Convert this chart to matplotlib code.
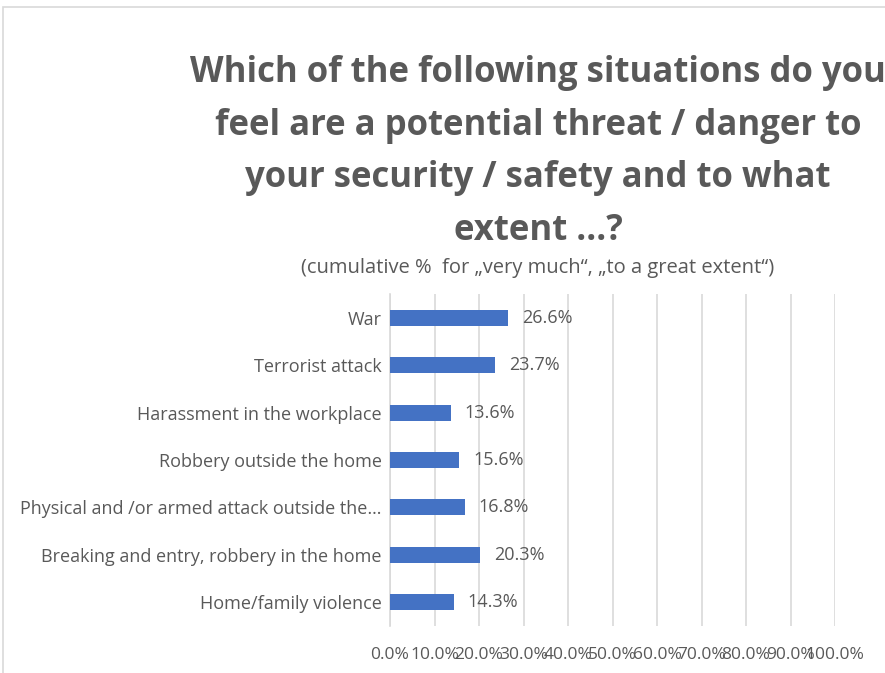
import matplotlib.pyplot as plt
from matplotlib.patches import Rectangle

categories = ['War', 'Terrorist attack', 'Harassment in the workplace',
              'Robbery outside the home', 'Physical and /or armed attack outside the…',
              'Breaking and entry, robbery in the home', 'Home/family violence']
values = [26.6, 23.7, 13.6, 15.6, 16.8, 20.3, 14.3]
xticks = [0, 10, 20, 30, 40, 50, 60, 70, 80, 90, 100]

text_color = '#595959'
bar_color = '#4472C4'
grid_color = '#D9D9D9'

plt.rcParams['font.family'] = ['Open Sans', 'DejaVu Sans']

fig = plt.figure(figsize=(8.85, 6.73), dpi=100)
fig.patch.set_facecolor('white')

# chart frame
fig.add_artist(Rectangle((3 / 885, -0.05), 1.1, 1 - 7 / 673 + 0.05, transform=fig.transFigure,
                         fill=False, edgecolor=grid_color, linewidth=1.2))

ax = fig.add_axes([390 / 885, 1 - 626 / 673, 445 / 885, 332 / 673])
pos = list(range(len(categories)))
ax.barh(pos, values, height=0.34, color=bar_color, zorder=3)
ax.set_ylim(len(categories) - 0.5, -0.5)
ax.set_xlim(0, 100)

for p, v in zip(pos, values):
    ax.annotate(f'{v:.1f}%', xy=(v, p), xytext=(10, 0), textcoords='offset points',
                ha='left', va='center', color=text_color, fontsize=13)

ax.set_yticks(pos)
ax.set_yticklabels(categories, color=text_color, fontsize=13)
ax.set_xticks(xticks)
ax.set_xticklabels([f'{t:.1f}%' for t in xticks], color=text_color, fontsize=12.5)
ax.tick_params(axis='both', length=0)
ax.tick_params(axis='x', pad=15)
ax.tick_params(axis='y', pad=6)
ax.grid(axis='x', color=grid_color, linewidth=1.2, zorder=0)
for s in ['top', 'right', 'bottom']:
    ax.spines[s].set_visible(False)
ax.spines['left'].set_color(grid_color)
ax.spines['left'].set_linewidth(1.2)

title_lines = ['Which of the following situations do you',
               'feel are a potential threat / danger to',
               'your security / safety and to what',
               'extent ...?']
for line, y in zip(title_lines, [73, 126, 178, 231]):
    fig.text(538 / 885, 1 - y / 673, line, ha='center', va='center',
             fontsize=25, fontweight='bold', color=text_color)
fig.text(538 / 885, 1 - 268 / 673, '(cumulative %  for „very much“, „to a great extent“)', ha='center',
         va='center', fontsize=14.5, color=text_color)

fig.savefig('out.png', dpi=100)
